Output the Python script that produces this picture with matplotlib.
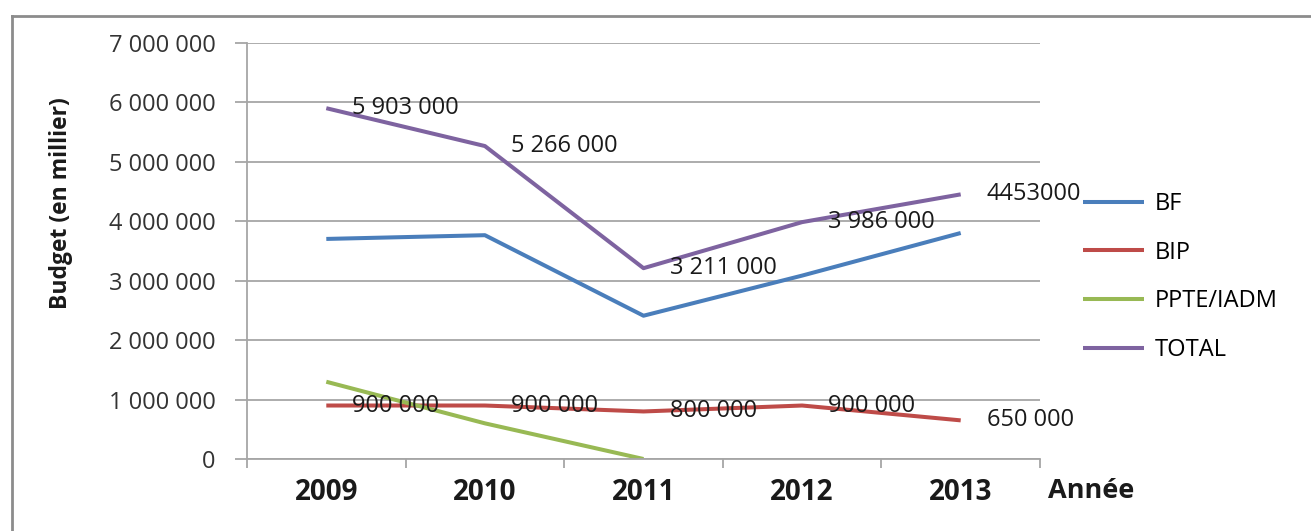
import numpy as np
import matplotlib.pyplot as plt
from matplotlib.lines import Line2D

plt.rcParams['font.family'] = ['Open Sans', 'DejaVu Sans']

# données (budget en milliers)
annees = ['2009', '2010', '2011', '2012', '2013']
bf = [3703000, 3766000, 2411000, 3086000, 3803000]
bip = [900000, 900000, 800000, 900000, 650000]
ppte = [1300000, 600000, 0, np.nan, np.nan]
total = [5903000, 5266000, 3211000, 3986000, 4453000]
etiq_total = ['5 903 000', '5 266 000', '3 211 000', '3 986 000', '4453000']
etiq_bip = ['900 000', '900 000', '800 000', '900 000', '650 000']

series = [('BF', bf, '#4a7ebb'), ('BIP', bip, '#be4b48'),
          ('PPTE/IADM', ppte, '#98b954'), ('TOTAL', total, '#7e63a0')]

W, H = 1311, 531
fig = plt.figure(figsize=(W / 100, H / 100), dpi=100)
ax = fig.add_axes([247 / W, 72 / H, 793 / W, 416 / H])

x = np.arange(len(annees))
handles = []
for nom, val, col in series:
    ln, = ax.plot(x, val, color=col, lw=2.9, solid_capstyle='butt', label=nom)
    handles.append(ln)

# étiquettes de données à droite des points
for i in x:
    ax.annotate(etiq_total[i], (i, total[i]), xytext=(26, 0), textcoords='offset pixels',
                ha='left', va='center', fontsize=17, color='#1a1a1a')
    ax.annotate(etiq_bip[i], (i, bip[i]), xytext=(26, 0), textcoords='offset pixels',
                ha='left', va='center', fontsize=17, color='#1a1a1a')

ax.set_xlim(-0.5, 4.5)
ax.set_ylim(0, 7000000)
ax.set_yticks(np.arange(0, 7000001, 1000000))
ax.set_yticklabels([f'{v:,.0f}'.replace(',', ' ') for v in np.arange(0, 7000001, 1000000)],
                   fontsize=17, color='#333333')
ax.set_xticks(x)
ax.set_xticklabels(annees, fontsize=20, fontweight='bold', color='#1a1a1a')
ax.set_xticks(np.arange(-0.5, 5, 1), minor=True)
ax.tick_params(axis='x', which='major', length=0, pad=14)
ax.tick_params(axis='x', which='minor', length=6.5, width=1.3, color='#a6a6a6')
ax.tick_params(axis='y', length=8.6, width=1.3, color='#a6a6a6', pad=14)

ax.yaxis.grid(True, color='#a6a6a6', lw=1.3)
ax.set_axisbelow(True)
for s in ['top', 'right']:
    ax.spines[s].set_visible(False)
for s in ['left', 'bottom']:
    ax.spines[s].set_color('#a6a6a6')
    ax.spines[s].set_linewidth(1.3)

fig.text(61 / W, 1 - 203 / H, 'Budget (en millier)', rotation=90, ha='center', va='center',
         fontsize=16.5, fontweight='bold', color='#1a1a1a')
fig.text(1048 / W, 1 - 491 / H, 'Année', ha='left', va='center',
         fontsize=19.5, fontweight='bold', color='#1a1a1a')

fig.legend(handles=handles, loc='center left', bbox_to_anchor=(1083 / W, 1 - 277 / H),
           frameon=False, fontsize=17, handlelength=2.6, handletextpad=0.45,
           labelspacing=1.05, borderpad=0, borderaxespad=0)

# cadre extérieur du graphique
fig.add_artist(Line2D([12 / W, 1], [1 - 16 / H] * 2, transform=fig.transFigure,
                      color='#8c8c8c', lw=2))
fig.add_artist(Line2D([12 / W] * 2, [0, 1 - 16 / H], transform=fig.transFigure,
                      color='#8c8c8c', lw=2))

fig.savefig('out.png', dpi=100)
